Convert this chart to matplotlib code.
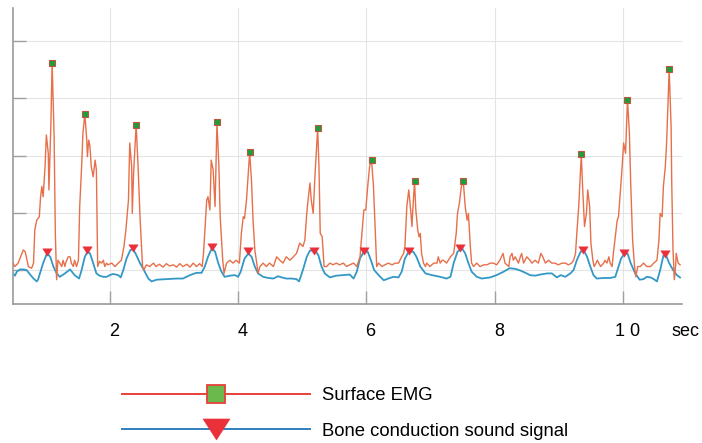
import matplotlib
matplotlib.use("Agg")
import matplotlib.pyplot as plt
import matplotlib.transforms as mtransforms
from matplotlib.lines import Line2D
import numpy as np

plt.rcParams['font.family'] = ['Liberation Sans', 'DejaVu Sans']

# surface EMG envelope (time in sec, amplitude in arbitrary units)
emg_points = [
    (0.49, 1.12), (0.52, 1.06), (0.57, 1.12), (0.65, 1.35), (0.68, 1.32), (0.73, 1.06),
    (0.78, 1.03), (0.81, 1.12), (0.83, 1.70), (0.86, 1.87), (0.90, 1.93), (0.92, 2.28),
    (0.94, 2.46), (0.96, 2.28), (0.99, 2.81), (1.01, 3.36), (1.04, 3.04), (1.05, 2.40),
    (1.08, 3.51), (1.10, 4.62), (1.13, 3.39), (1.15, 1.64), (1.17, 0.83), (1.19, 1.17),
    (1.22, 1.12), (1.25, 1.06), (1.27, 1.17), (1.30, 1.06), (1.31, 1.12), (1.35, 1.23),
    (1.38, 1.23), (1.40, 1.12), (1.43, 1.06), (1.45, 1.17), (1.48, 1.06), (1.51, 1.17),
    (1.53, 2.11), (1.56, 2.81), (1.58, 3.39), (1.61, 3.73), (1.64, 3.27), (1.65, 2.98),
    (1.67, 3.27), (1.69, 3.16), (1.71, 2.81), (1.74, 2.63), (1.77, 2.92), (1.79, 2.75),
    (1.81, 1.06), (1.84, 1.15), (1.87, 1.12), (1.90, 1.17), (1.92, 1.06), (1.95, 1.12),
    (1.97, 1.09), (2.03, 1.12), (2.08, 1.06), (2.13, 1.12), (2.18, 1.17), (2.22, 1.41),
    (2.25, 1.70), (2.29, 2.22), (2.31, 3.22), (2.34, 2.81), (2.35, 1.99), (2.37, 2.69),
    (2.41, 3.54), (2.44, 2.81), (2.47, 1.93), (2.51, 1.06), (2.53, 1.00), (2.57, 1.09),
    (2.62, 1.06), (2.68, 1.12), (2.72, 1.06), (2.77, 1.10), (2.83, 1.05), (2.88, 1.11),
    (2.93, 1.07), (2.99, 1.09), (3.04, 1.05), (3.09, 1.11), (3.14, 1.06), (3.20, 1.10),
    (3.25, 1.05), (3.30, 1.12), (3.35, 1.06), (3.40, 1.11), (3.44, 1.06), (3.46, 1.29),
    (3.51, 2.22), (3.53, 2.28), (3.56, 2.05), (3.58, 2.92), (3.61, 2.75), (3.64, 2.11),
    (3.67, 3.58), (3.70, 2.81), (3.72, 1.93), (3.76, 1.17), (3.78, 0.94), (3.82, 1.12),
    (3.87, 1.17), (3.92, 1.12), (3.97, 1.17), (4.02, 1.12), (4.05, 1.64), (4.08, 1.93),
    (4.10, 1.90), (4.13, 2.22), (4.18, 3.06), (4.21, 2.52), (4.23, 1.93), (4.26, 1.35),
    (4.29, 1.12), (4.31, 0.94), (4.34, 1.06), (4.39, 1.12), (4.44, 1.06), (4.49, 1.12),
    (4.55, 1.06), (4.60, 1.23), (4.65, 1.17), (4.70, 1.12), (4.75, 1.23), (4.81, 1.17),
    (4.86, 1.23), (4.91, 1.29), (4.96, 1.47), (5.01, 1.41), (5.04, 1.52), (5.07, 1.99),
    (5.09, 2.22), (5.12, 2.52), (5.14, 2.22), (5.17, 1.99), (5.20, 2.69), (5.24, 3.48),
    (5.26, 2.81), (5.28, 1.64), (5.31, 1.58), (5.34, 1.06), (5.38, 1.06), (5.43, 1.12),
    (5.48, 1.09), (5.53, 1.12), (5.58, 1.09), (5.64, 1.12), (5.69, 1.06), (5.74, 1.09),
    (5.80, 1.12), (5.85, 1.06), (5.90, 1.23), (5.93, 1.64), (5.96, 2.05), (5.99, 2.05),
    (6.02, 2.46), (6.05, 2.81), (6.08, 2.92), (6.11, 2.46), (6.14, 1.64), (6.16, 1.06),
    (6.19, 1.12), (6.24, 1.06), (6.29, 1.09), (6.34, 1.12), (6.40, 1.09), (6.45, 1.12),
    (6.50, 1.12), (6.55, 1.23), (6.58, 1.29), (6.60, 1.41), (6.63, 2.11), (6.66, 2.40),
    (6.68, 2.17), (6.71, 1.76), (6.72, 1.99), (6.75, 2.55), (6.77, 2.05), (6.80, 1.70),
    (6.82, 1.58), (6.84, 1.64), (6.86, 1.29), (6.89, 1.12), (6.92, 1.06), (6.94, 1.12),
    (6.99, 1.06), (7.05, 1.12), (7.10, 1.12), (7.12, 1.23), (7.15, 1.12), (7.18, 1.17),
    (7.20, 1.17), (7.25, 1.12), (7.31, 1.23), (7.36, 1.29), (7.40, 1.64), (7.42, 1.99),
    (7.45, 2.17), (7.48, 2.46), (7.51, 2.55), (7.54, 2.11), (7.57, 1.87), (7.59, 1.99),
    (7.62, 1.41), (7.64, 1.12), (7.67, 1.06), (7.72, 1.12), (7.77, 1.06), (7.83, 1.09),
    (7.88, 1.09), (7.93, 1.12), (7.98, 1.12), (8.03, 1.09), (8.08, 1.17), (8.13, 1.29),
    (8.16, 1.12), (8.22, 1.06), (8.24, 1.23), (8.27, 1.29), (8.29, 1.17), (8.32, 1.23),
    (8.37, 1.12), (8.40, 1.23), (8.42, 1.29), (8.45, 1.12), (8.50, 1.23), (8.55, 1.17),
    (8.58, 1.12), (8.63, 1.17), (8.68, 1.12), (8.72, 1.29), (8.75, 1.23), (8.79, 1.12),
    (8.84, 1.17), (8.89, 1.12), (8.94, 1.12), (8.99, 1.09), (9.05, 1.12), (9.10, 1.12),
    (9.15, 1.09), (9.20, 1.12), (9.23, 1.17), (9.26, 1.29), (9.28, 1.64), (9.31, 2.11),
    (9.35, 3.02), (9.37, 2.46), (9.40, 1.76), (9.43, 1.99), (9.45, 2.40), (9.48, 2.11),
    (9.50, 1.47), (9.53, 1.17), (9.55, 1.06), (9.58, 1.12), (9.60, 1.17), (9.65, 1.06),
    (9.70, 1.12), (9.72, 1.17), (9.75, 1.12), (9.78, 1.23), (9.80, 1.12), (9.83, 1.06),
    (9.85, 1.29), (9.88, 1.58), (9.91, 1.87), (9.93, 1.93), (9.96, 2.40), (9.98, 2.69),
    (10.01, 3.22), (10.04, 3.04), (10.07, 3.98), (10.10, 3.39), (10.12, 2.52), (10.15, 1.52),
    (10.18, 1.06), (10.20, 0.88), (10.23, 1.06), (10.27, 1.06), (10.32, 1.12), (10.37, 1.06),
    (10.43, 1.06), (10.48, 1.12), (10.53, 1.17), (10.56, 1.52), (10.58, 1.99), (10.61, 1.93),
    (10.63, 2.46), (10.66, 2.81), (10.68, 3.22), (10.72, 4.51), (10.75, 3.51), (10.76, 2.52),
    (10.78, 1.35), (10.80, 0.83), (10.82, 1.06), (10.83, 1.29), (10.86, 1.12), (10.89, 1.09),
]

# bone conduction sound signal envelope
bone_points = [
    (0.49, 0.94), (0.52, 0.90), (0.55, 0.97), (0.60, 1.01), (0.65, 1.01), (0.70, 1.00),
    (0.75, 0.93), (0.81, 0.85), (0.86, 0.80), (0.88, 0.83), (0.91, 0.94), (0.96, 1.12),
    (1.02, 1.29), (1.07, 1.23), (1.12, 1.06), (1.17, 0.94), (1.22, 0.88), (1.30, 0.94),
    (1.38, 1.01), (1.45, 0.91), (1.52, 0.85), (1.56, 1.00), (1.61, 1.23), (1.65, 1.32),
    (1.69, 1.29), (1.74, 1.12), (1.79, 0.94), (1.84, 0.90), (1.90, 0.88), (1.95, 0.88),
    (2.00, 0.91), (2.05, 0.93), (2.13, 0.91), (2.17, 0.87), (2.21, 1.00), (2.26, 1.20),
    (2.32, 1.35), (2.36, 1.36), (2.40, 1.29), (2.47, 1.12), (2.53, 1.00), (2.60, 0.85),
    (2.65, 0.80), (2.73, 0.83), (2.88, 0.84), (3.04, 0.85), (3.14, 0.85), (3.25, 0.91),
    (3.35, 0.95), (3.43, 0.95), (3.48, 1.06), (3.53, 1.23), (3.59, 1.38), (3.64, 1.32),
    (3.69, 1.12), (3.74, 0.97), (3.79, 0.88), (3.87, 0.90), (3.95, 0.91), (4.00, 0.88),
    (4.04, 0.97), (4.10, 1.20), (4.16, 1.29), (4.21, 1.23), (4.26, 1.06), (4.31, 0.94),
    (4.39, 0.88), (4.47, 0.86), (4.55, 0.85), (4.62, 0.89), (4.68, 0.87), (4.75, 0.85),
    (4.83, 0.85), (4.91, 0.84), (4.95, 0.80), (5.01, 1.00), (5.07, 1.23), (5.12, 1.34),
    (5.20, 1.34), (5.25, 1.26), (5.30, 1.06), (5.35, 0.94), (5.43, 0.87), (5.53, 0.90),
    (5.64, 0.91), (5.74, 0.92), (5.80, 0.85), (5.85, 0.97), (5.90, 1.20), (5.96, 1.32),
    (6.02, 1.32), (6.07, 1.17), (6.12, 1.00), (6.19, 0.91), (6.27, 0.82), (6.34, 0.85),
    (6.42, 0.88), (6.50, 0.87), (6.55, 0.97), (6.60, 1.20), (6.66, 1.32), (6.73, 1.32),
    (6.78, 1.23), (6.84, 1.06), (6.92, 0.94), (7.02, 0.91), (7.15, 0.88), (7.25, 0.85),
    (7.31, 0.88), (7.36, 1.12), (7.42, 1.32), (7.49, 1.38), (7.54, 1.29), (7.59, 1.12),
    (7.64, 0.97), (7.72, 0.88), (7.80, 0.85), (7.93, 0.87), (8.03, 0.91), (8.14, 0.97),
    (8.23, 1.03), (8.32, 1.02), (8.40, 0.99), (8.48, 0.95), (8.55, 0.91), (8.63, 0.90),
    (8.71, 0.92), (8.82, 0.94), (8.89, 0.94), (8.97, 0.87), (9.03, 0.91), (9.10, 0.88),
    (9.18, 0.94), (9.23, 1.00), (9.28, 1.17), (9.34, 1.32), (9.39, 1.34), (9.44, 1.23),
    (9.49, 1.06), (9.54, 0.91), (9.59, 0.85), (9.70, 0.86), (9.80, 0.86), (9.88, 0.88),
    (9.93, 1.06), (9.97, 1.20), (10.02, 1.28), (10.07, 1.29), (10.12, 1.12), (10.19, 0.94),
    (10.26, 0.83), (10.32, 0.84), (10.37, 0.88), (10.43, 0.87), (10.48, 0.84), (10.53, 0.80),
    (10.58, 1.00), (10.63, 1.25), (10.67, 1.26), (10.72, 1.12), (10.78, 1.00), (10.84, 0.91),
    (10.89, 0.87),
]

# detected peaks
emg_peak_t = [1.10, 1.61, 2.41, 3.67, 4.18, 5.24, 6.08, 6.75, 7.51, 9.35, 10.07, 10.72]
emg_peak_v = [4.62, 3.73, 3.54, 3.58, 3.06, 3.48, 2.92, 2.55, 2.55, 3.02, 3.98, 4.51]
bone_peak_t = [1.02, 1.65, 2.36, 3.59, 4.16, 5.19, 5.96, 6.67, 7.46, 9.37, 10.02, 10.66]
bone_peak_v = [1.31, 1.35, 1.38, 1.40, 1.33, 1.34, 1.33, 1.33, 1.38, 1.35, 1.30, 1.28]

xticks = [2, 4, 6, 8, 10]
xtick_labels = ["2", "4", "6", "8", "1 0"]
yticks = [1, 2, 3, 4, 5]

emg_t, emg_v = np.array(emg_points).T
bone_t, bone_v = np.array(bone_points).T

# flat downward triangle, wider than tall
tri = [(-1, 0.78), (1, 0.78), (0, -0.78), (-1, 0.78)]

fig = plt.figure(figsize=(7.02, 4.43), dpi=100)
ax = fig.add_axes([13/702, 1 - 304/443, 669/702, 296/443])

ax.plot(emg_t, emg_v, color='#e6704a', lw=1.0, zorder=3)
ax.plot(bone_t, bone_v, color='#3398c6', lw=1.3, zorder=2)
ax.plot(emg_peak_t, emg_peak_v, ls='none', marker='s', ms=4.8,
        mfc='#1b9e3e', mec='#c0553d', mew=0.8, zorder=4)
ax.plot(bone_peak_t, bone_peak_v, ls='none', marker=tri, ms=6.8,
        mfc='#ea2f3a', mec='#ea2f3a', mew=0.3, zorder=4)

ax.set_xlim(0.49, 10.92)
ax.set_ylim(0.405, 5.58)
ax.set_xticks(xticks)
ax.set_xticklabels(xtick_labels, fontsize=13)
ax.set_yticks(yticks)
ax.set_yticklabels([])
ax.grid(True, color='#e4e4e4', lw=0.8)
ax.set_axisbelow(True)

ax.tick_params(axis='both', direction='in', length=9.5, width=1.0, color='#a0a0a0')
ax.tick_params(axis='x', pad=14)
offset = mtransforms.ScaledTranslation(3/72, 0, fig.dpi_scale_trans)
for lab in ax.get_xticklabels():
    lab.set_transform(lab.get_transform() + offset)

for side in ['top', 'right']:
    ax.spines[side].set_visible(False)
for side in ['left', 'bottom']:
    ax.spines[side].set_color('#999999')
    ax.spines[side].set_linewidth(1.2)

fig.text(685.5/702, 1 - 323/443, "sec", ha='center', va='top', fontsize=13)

# legend below the chart
handles = [
    Line2D([], [], color='#e8403a', lw=1.4, marker='s', ms=13,
           mfc='#6bb84c', mec='#e8403a', mew=1.3),
    Line2D([], [], color='#2f80c0', lw=1.4, marker=tri, ms=19.5,
           mfc='#ea3038', mec='#ea3038', mew=0.3),
]
fig.legend(handles, ["Surface EMG", "Bone conduction sound signal"],
           loc='center left', bbox_to_anchor=(122/702, 1 - 413.5/443),
           frameon=False, fontsize=13.3, handlelength=10.2, handletextpad=0.6,
           labelspacing=1.0, borderpad=0, borderaxespad=0)

plt.savefig("out.png", dpi=100)
plt.close()
